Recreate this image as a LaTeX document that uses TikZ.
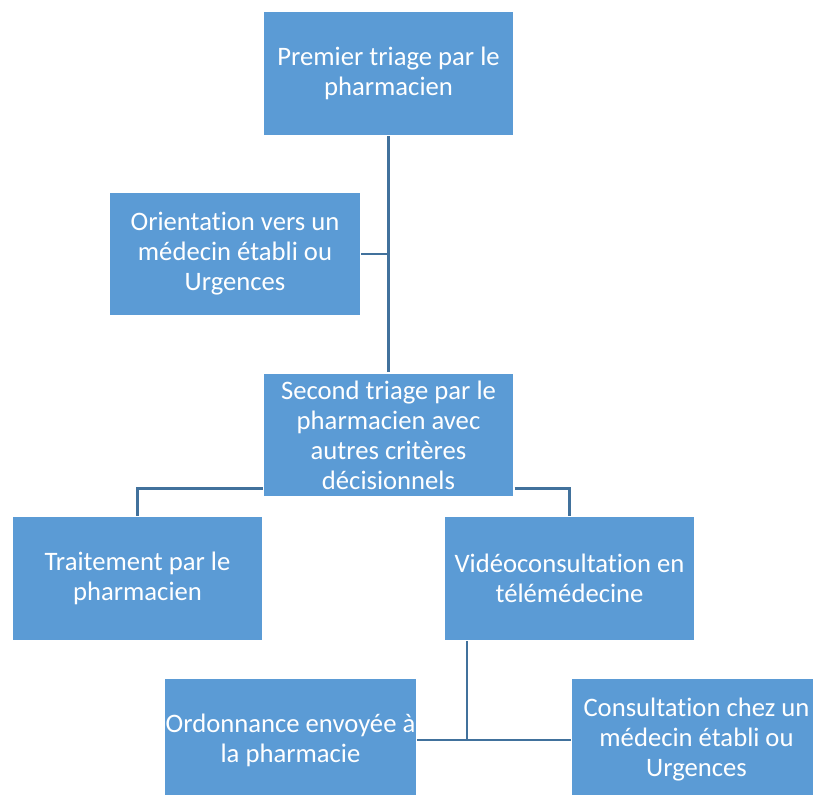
\documentclass[tikz,border=0pt]{standalone}
\usepackage{fontspec}
\setmainfont[Ligatures={NoCommon}]{Carlito}
\definecolor{boxblue}{HTML}{5B9BD5}
\definecolor{lineblue}{HTML}{41719C}

\begin{document}
\begin{tikzpicture}[x=0.75pt, y=-0.75pt,
    box/.style={rectangle, fill=boxblue, draw=white, line width=1pt,
      minimum width=188pt, minimum height=93pt, inner xsep=1pt, align=center,
      text=white, font=\fontsize{20}{22.5}\selectfont},
    link/.style={draw=lineblue, line width=2.2pt}]
  \useasboundingbox (0, 0) rectangle (813, 795);
  \node[box] (first) at (388.5, 73.5) {Premier triage par le\\pharmacien};
  \node[box] (orient) at (235, 254) {Orientation vers un\\médecin établi ou\\Urgences};
  \node[box] (second) at (388.5, 435) {Second triage par le\\pharmacien avec\\autres critères\\décisionnels};
  \node[box] (treat) at (137.5, 578.5) {Traitement par le\\pharmacien};
  \node[box] (video) at (569.5, 578.5) {Vidéoconsultation en\\télémédecine};
  \node[box] (presc) at (290.5, 740) {Ordonnance envoyée à\\la pharmacie};
  \node[box] (consult) at (696.5, 740) {Consultation chez un\\médecin établi ou\\Urgences};
  \coordinate (split) at (467, 740);
  \draw[link] (first.south) -- (second.north);
  \draw[link] (orient.east) -- (orient.east -| first.south);
  \draw[link] ([yshift=6.75pt]second.south west) -| (treat.north);
  \draw[link] ([yshift=6.75pt]second.south east) -| (video.north);
  \draw[link] (video.south west -| split) -- (split);
  \draw[link] (presc.east) -- (consult.west);
\end{tikzpicture}
\end{document}
